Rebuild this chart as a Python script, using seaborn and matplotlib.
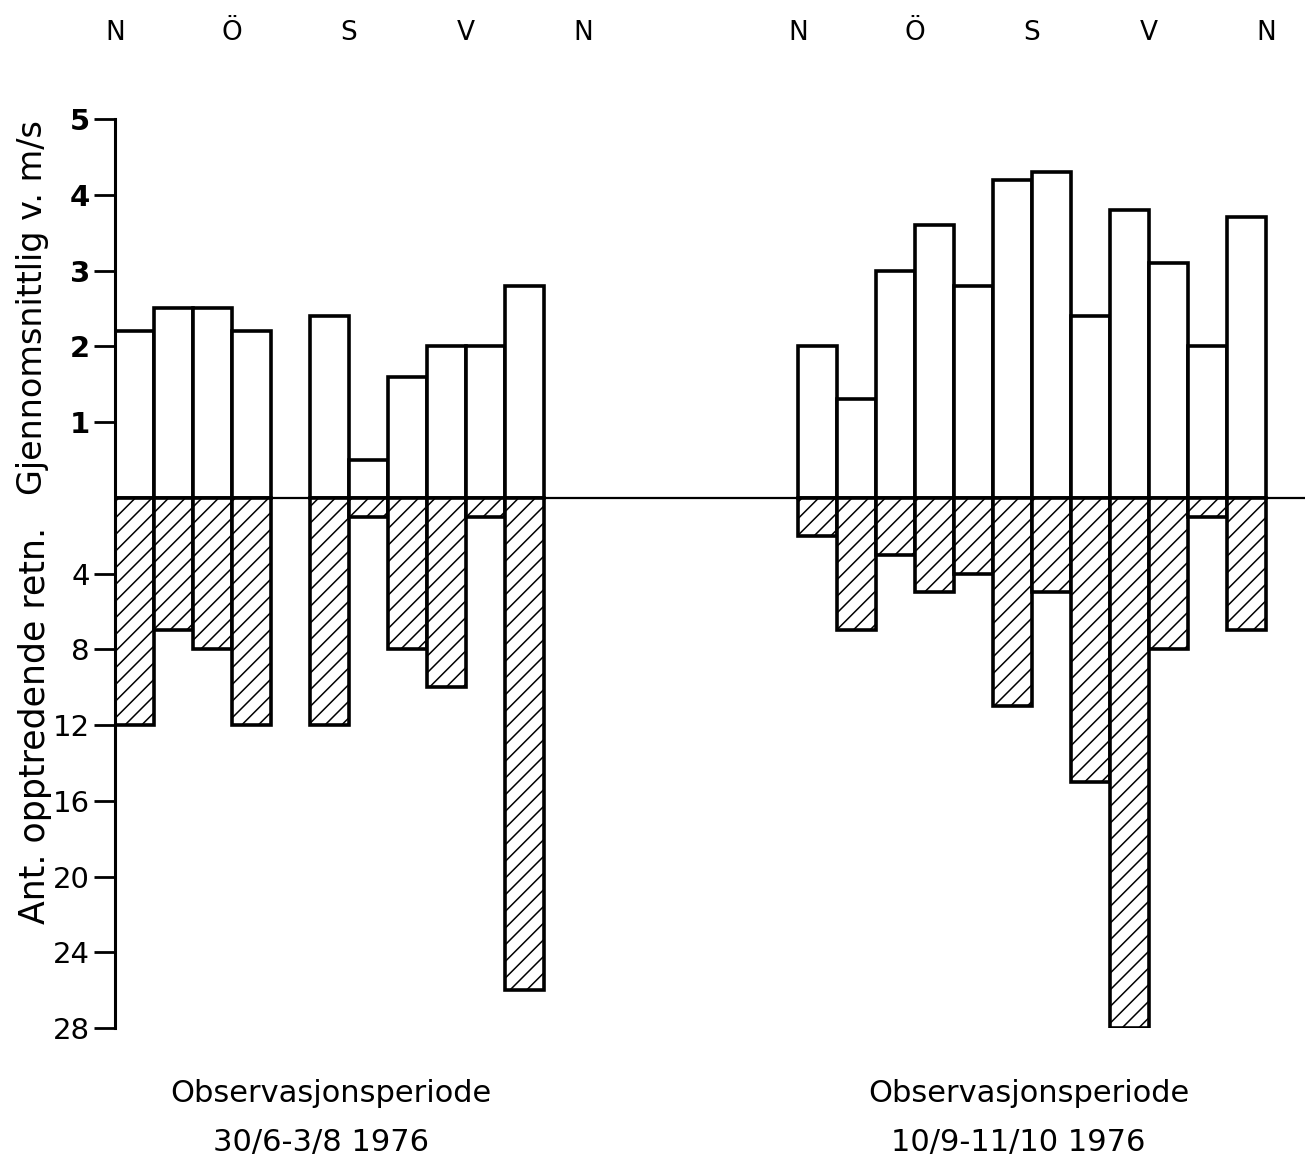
import numpy as np
import pandas as pd
import matplotlib
matplotlib.use("Agg")
import matplotlib.pyplot as plt
import matplotlib.transforms as mtransforms
import seaborn as sns

# wind direction sectors (30 degrees each), N -> Ö -> S -> V -> N
sector = np.arange(12)
compass = ["N", "Ö", "S", "V", "N"]
compass_sector = [0, 3, 6, 9, 12]

# period 1: 30/6 - 3/8 1976
speed_p1 = [2.2, 2.5, 2.5, 2.2, 0.0, 2.4, 0.5, 1.6, 2.0, 2.0, 2.8, 0.0]
count_p1 = [12, 7, 8, 12, 0, 12, 1, 8, 10, 1, 26, 0]
# period 2: 10/9 - 11/10 1976
speed_p2 = [2.0, 1.3, 3.0, 3.6, 2.8, 4.2, 4.3, 2.4, 3.8, 3.1, 2.0, 3.7]
count_p2 = [2, 7, 3, 5, 4, 11, 5, 15, 28, 8, 1, 7]

periods = ["Observasjonsperiode\n30/6-3/8 1976", "Observasjonsperiode\n10/9-11/10 1976"]

speed_ticks = [1, 2, 3, 4, 5]
count_ticks = [4, 8, 12, 16, 20, 24, 28]

COUNTS_PER_UNIT = 4   # 4 occurrences drawn as tall as 1 m/s
GROUP_OFFSET = [0.0, 17.5]

rows = []
for p, (spd, cnt) in enumerate([(speed_p1, count_p1), (speed_p2, count_p2)]):
    for s, v, c in zip(sector, spd, cnt):
        rows.append({"period": p, "x": GROUP_OFFSET[p] + s + 0.5,
                     "speed": v, "count": c})
df = pd.DataFrame(rows)
df_speed = df[df["speed"] > 0]
df_count = df[df["count"] > 0].assign(depth=lambda d: -d["count"] / COUNTS_PER_UNIT)

sns.set_style("ticks")
plt.rcParams["font.family"] = ["DejaVu Sans"]
plt.rcParams["hatch.linewidth"] = 1.1
plt.rcParams["text.color"] = "black"
plt.rcParams["ytick.color"] = "black"
plt.rcParams["axes.edgecolor"] = "black"

fig = plt.figure(figsize=(13.09, 11.63), dpi=100)
ax = fig.add_axes([115 / 1309, 1 - 1028 / 1163, 1190 / 1309, 909 / 1163])

bar_kw = dict(orient="x", native_scale=True, width=1, edgecolor="black",
              linewidth=2.6, saturation=1, errorbar=None, ax=ax)
sns.barplot(data=df_speed, x="x", y="speed", color="white", zorder=2, **bar_kw)
sns.barplot(data=df_count, x="x", y="depth", color="white", hatch="//", zorder=2, **bar_kw)

ax.axhline(0, color="black", lw=1.6, zorder=3)

ax.set_xlim(0, 30.5)
ax.set_ylim(-7, 5)
ax.set_xticks([])
ax.set_xlabel("")
ax.set_ylabel("")

yt = [-c / COUNTS_PER_UNIT for c in count_ticks] + speed_ticks
yl = [str(c) for c in count_ticks] + [str(s) for s in speed_ticks]
ax.set_yticks(yt)
ax.set_yticklabels(yl, fontsize=21)
for lab, v in zip(ax.get_yticklabels(), yt):
    if v > 0:
        lab.set_fontweight("bold")
ax.tick_params(axis="y", length=15, width=2, pad=3, colors="black")

sns.despine(ax=ax, bottom=True)
ax.spines["left"].set_linewidth(2.2)

# compass letters on top
trans = mtransforms.blended_transform_factory(ax.transData, fig.transFigure)
for off in GROUP_OFFSET:
    for lbl, s in zip(compass, compass_sector):
        ax.text(off + s, 0.972, lbl, transform=trans, ha="center", va="center",
                fontsize=19)

# axis titles
fig.text(33 / 1309, 1 - 308 / 1163, "Gjennomsnittlig v. m/s", rotation=90,
         ha="center", va="center", fontsize=24)
fig.text(35 / 1309, 1 - 725 / 1163, "Ant. opptredende retn.", rotation=90,
         ha="center", va="center", fontsize=25)

# period captions
for xc, txt in zip([0.253, 0.786], periods):
    t1, t2 = txt.split("\n")
    fig.text(xc, 1 - 1094 / 1163, t1, ha="center", va="center", fontsize=22)
    fig.text(xc - 0.008, 1 - 1143 / 1163, t2, ha="center", va="center", fontsize=22)

fig.savefig("out.png", dpi=100)
